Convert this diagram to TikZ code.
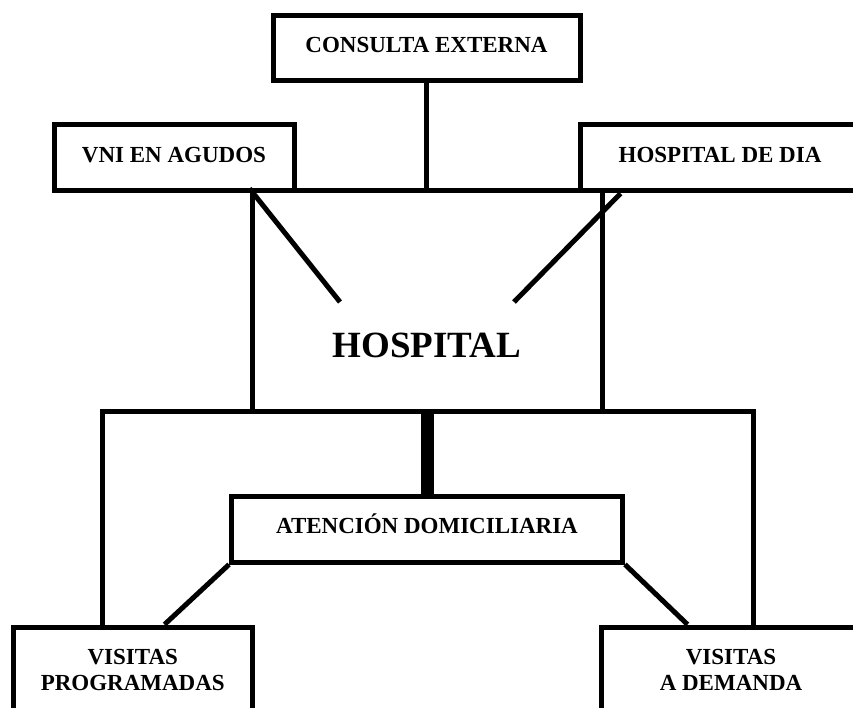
\documentclass[tikz,border=0pt]{standalone}
\usepackage{fontspec}
\setmainfont{Liberation Serif}
\begin{document}
\begin{tikzpicture}[x=1pt, y=-1pt, line width=5pt, font=\bfseries\fontsize{23}{26}\selectfont,
    box/.style = {draw, rectangle, inner sep=0pt, text height=15.2pt, text depth=7pt},
    box2/.style = {draw, rectangle, inner sep=0pt, align=center}]
    \useasboundingbox (0,0) rectangle (853,708);
    \clip (0,0) rectangle (853,708);
    % Disegna i nodi
    \node[box, minimum width=307pt, minimum height=65pt] (ce) at (426.5,48.5) {CONSULTA EXTERNA};
    \node[box, minimum width=240pt, minimum height=66pt] (vni) at (174,158) {VNI EN AGUDOS};
    \node[box, minimum width=280pt, minimum height=66pt] (hd) at (720,158) {HOSPITAL DE DIA};
    \node[draw, rectangle, minimum width=350pt, minimum height=220pt] (h) at (427,301) {};
    \node[font=\bfseries\fontsize{37}{40}\selectfont] (ht) at (427,345) {HOSPITAL};
    \node[box, minimum width=391pt, minimum height=66pt] (ad) at (427,529) {ATENCIÓN DOMICILIARIA};
    \node[box2, minimum width=238.5pt, minimum height=86pt] (vp) at (132.75,670) {VISITAS\\PROGRAMADAS};
    \node[box2, minimum width=260pt, minimum height=86pt] (vd) at (731,670) {VISITAS\\A DEMANDA};

    \coordinate (d1) at (340,302);
    \coordinate (d2) at (514,302);
    \coordinate (bl) at (102,411);
    \coordinate (br) at (753,411);

    % Collegamenti
    \draw (ce.south) -- (ce.south |- h.north);
    \draw (h.north west) -- (d1);
    \draw ([xshift=43pt]hd.south west) -- (d2);
    \draw (vp.north -| bl) -- (bl) -- (br) -- (vd.north -| br);
    \draw[line width=13pt] (h.south) -- (h.south |- ad.north);
    \draw (ad.south west) -- ([xshift=153.5pt]vp.north west);
    \draw (ad.south east) -- ([xshift=89pt]vd.north west);
\end{tikzpicture}
\end{document}
